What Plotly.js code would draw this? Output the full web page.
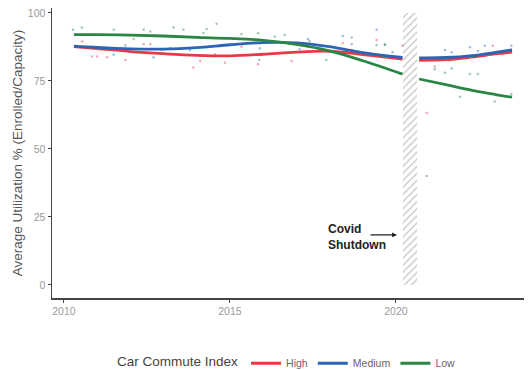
<!DOCTYPE html>
<html>
<head>
<meta charset="utf-8">
<script src="https://cdn.plot.ly/plotly-3.0.1.min.js"></script>
<style>html,body{margin:0;padding:0;background:#fff;}#chart{width:531px;height:370px;}</style>
</head>
<body>
<div id="chart"></div>
<script>
// Smoothed trend lines (null = break at the Covid shutdown)
const trendYears = [2010.3, 2011, 2012, 2013, 2014, 2015, 2016, 2017, 2018, 2019, 2020.2, null, 2020.7, 2021.5, 2022.3, 2023.0, 2023.5];
const highTrend   = [87.6, 86.9, 85.8, 85.0, 84.4, 84.2, 84.8, 85.6, 85.9, 84.7, 83.0, null, 82.6, 82.8, 83.8, 84.9, 85.6];
const mediumTrend = [87.8, 87.3, 86.8, 86.7, 87.2, 88.3, 89.1, 89.0, 87.6, 85.4, 83.6, null, 83.5, 83.6, 84.3, 85.5, 86.4];
const lowTrend    = [92.0, 92.0, 91.8, 91.5, 91.0, 90.6, 89.9, 88.4, 86.0, 82.4, 77.5, null, 75.7, 73.6, 71.5, 70.0, 69.0];

// Observed points
const highPtsX = [2010.55, 2010.85, 2011.0, 2011.3, 2011.85, 2012.4, 2012.6, 2013.9, 2014.1, 2014.55, 2014.85, 2015.35, 2015.85, 2016.86, 2018.4, 2018.67, 2019.42, 2020.2, 2020.93, 2021.17, 2022.92];
const highPtsY = [89.5, 84.0, 84.0, 83.7, 82.7, 88.5, 88.5, 79.9, 82.3, 84.8, 81.7, 87.6, 81.1, 82.3, 88.9, 86.4, 90.0, 88.0, 63.2, 80.3, 87.9];
const mediumPtsX = [2010.85, 2011.5, 2011.85, 2012.7, 2012.95, 2013.2, 2013.8, 2015.9, 2017.1, 2017.35, 2018.4, 2018.67, 2019.42, 2019.67, 2019.9, 2021.17, 2021.48, 2021.68, 2022.23, 2022.47, 2022.68, 2023.48];
const mediumPtsY = [87.6, 84.6, 88.0, 83.7, 86.4, 87.0, 86.4, 87.0, 86.6, 90.4, 91.5, 88.5, 93.8, 88.2, 85.5, 79.3, 86.4, 85.5, 87.4, 86.0, 87.9, 87.9];
const lowPtsX = [2010.27, 2010.54, 2011.5, 2012.1, 2012.4, 2012.6, 2013.3, 2013.6, 2014.2, 2014.3, 2014.6, 2015.35, 2015.85, 2015.88, 2016.35, 2016.65, 2017.4, 2017.9, 2018.67, 2019.42, 2019.67, 2020.93, 2021.48, 2021.68, 2021.93, 2022.23, 2022.47, 2022.98, 2023.48];
const lowPtsY = [93.8, 94.6, 93.8, 90.4, 93.8, 93.2, 94.6, 93.8, 92.6, 94.1, 96.0, 92.2, 92.5, 82.7, 91.3, 91.9, 89.7, 82.7, 91.0, 88.2, 88.5, 40.0, 78.0, 79.6, 69.2, 77.5, 77.5, 67.4, 70.2];

// Covid shutdown band
const shutdownX = [2020.21, 2020.64, 2020.64, 2020.21, 2020.21];
const shutdownY = [0, 0, 100, 100, 0];

const groupNames = ['High', 'Medium', 'Low'];
const groupColors = ['#E63B46', '#2B65B5', '#2A8546'];
const xTicks = [2010, 2015, 2020];
const yTicks = [0, 25, 50, 75, 100];

const traces = [];
traces.push({
  x: shutdownX, y: shutdownY, type: 'scatter', mode: 'lines', fill: 'toself',
  fillcolor: 'rgba(255,255,255,0)',
  fillpattern: {shape: '/', fgcolor: '#c4c4c4', bgcolor: 'rgba(255,255,255,0)', size: 5, solidity: 0.25},
  line: {width: 0, color: 'rgba(0,0,0,0)'}, showlegend: false, hoverinfo: 'skip'
});
const pts = [[highPtsX, highPtsY], [mediumPtsX, mediumPtsY], [lowPtsX, lowPtsY]];
pts.forEach((p, i) => {
  traces.push({x: p[0], y: p[1], type: 'scatter', mode: 'markers',
    marker: {size: 2.5, color: groupColors[i], opacity: 0.45}, showlegend: false, hoverinfo: 'skip'});
});
[highTrend, mediumTrend, lowTrend].forEach((t, i) => {
  traces.push({x: trendYears, y: t, type: 'scatter', mode: 'lines', name: groupNames[i],
    connectgaps: false, line: {color: groupColors[i], width: 2.8, shape: 'spline', smoothing: 1}});
});

const layout = {
  width: 531, height: 370,
  margin: {l: 52, r: 7, t: 8, b: 72, autoexpand: false},
  paper_bgcolor: '#fff', plot_bgcolor: '#fff',
  font: {family: 'Liberation Sans, Arial, sans-serif', color: '#444'},
  showlegend: true,
  legend: {orientation: 'h', x: 0.5, xanchor: 'center', y: -0.225, yanchor: 'middle',
    title: {text: 'Car Commute Index', side: 'left', font: {size: 13.5, color: '#444'}},
    font: {size: 10.5, color: '#666'}, itemwidth: 30, tracegroupgap: 0},
  xaxis: {range: [2009.64, 2023.86], tickvals: xTicks, ticktext: xTicks.map(String),
    showgrid: false, zeroline: false, showline: true, linecolor: '#444', linewidth: 1.5,
    ticks: 'outside', ticklen: 3, tickcolor: '#444', tickfont: {size: 10.5, color: '#9a9a9a'}},
  yaxis: {range: [-4.8, 101.8], tickvals: yTicks, ticktext: yTicks.map(String),
    showgrid: false, zeroline: false, showline: true, linecolor: '#444', linewidth: 1.5,
    ticks: 'outside', ticklen: 3, tickcolor: '#444', tickfont: {size: 10.5, color: '#9a9a9a'},
    title: {text: 'Average Utilization % (Enrolled/Capacity)', font: {size: 13.5, color: '#555'}, standoff: 2}},
  annotations: [
    {x: 2020.03, y: 18.4, ax: 2019.19, ay: 18.4, xref: 'x', yref: 'y', axref: 'x', ayref: 'y',
     text: '', showarrow: true, arrowhead: 2, arrowsize: 0.8, arrowwidth: 1.2, arrowcolor: '#222'},
    {x: 2017.9, y: 17.6, xref: 'x', yref: 'y', xanchor: 'left', yanchor: 'middle', align: 'left',
     text: '<b>Covid<br>Shutdown</b>', showarrow: false, font: {size: 12, color: '#222'}}
  ]
};
Plotly.newPlot('chart', traces, layout, {displayModeBar: false, staticPlot: true});
</script>
</body>
</html>
